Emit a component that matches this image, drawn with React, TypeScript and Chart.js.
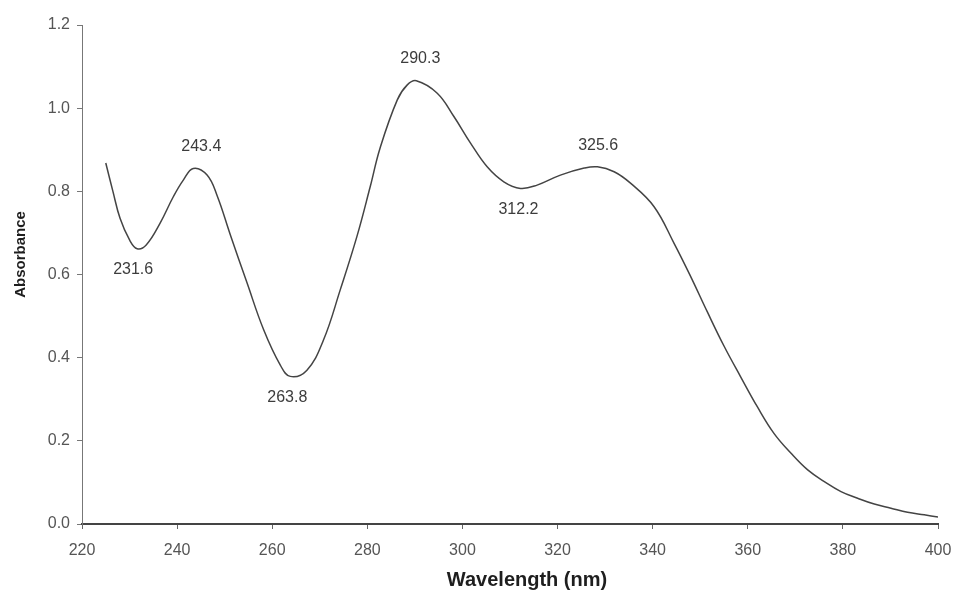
import React, { useEffect, useRef } from "react";
import { Chart, registerables } from "chart.js";

Chart.register(...registerables);

const wavelengths = [
  225, 226.5, 228, 230, 231.6, 233.5, 236.4, 239.2, 241.3, 243.4, 246.3, 248.4, 251.2, 254.7, 258.2,
  261.7, 263.8, 267.3, 270.8, 274.3, 277.8, 280.6, 282.7, 286.3, 288.4, 290.3, 294.7, 298.2, 301.7,
  305.2, 308.7, 312.2, 315.7, 320.6, 325.6, 328.4, 331.9, 335.4, 340.3, 344.5, 348, 351.5, 355,
  358.5, 362, 365.5, 369.1, 372.6, 376.1, 379.6, 383.1, 386.6, 390.1, 393.6, 397.1, 400,
];
const absorbance = [
  0.868, 0.8, 0.735, 0.683, 0.662, 0.671, 0.723, 0.787, 0.827, 0.855, 0.839, 0.79, 0.695, 0.58, 0.467,
  0.382, 0.355, 0.37, 0.443, 0.563, 0.691, 0.811, 0.905, 1.02, 1.056, 1.066, 1.036, 0.98, 0.916,
  0.859, 0.823, 0.807, 0.815, 0.839, 0.856, 0.859, 0.847, 0.819, 0.763, 0.675, 0.595, 0.51, 0.428,
  0.354, 0.282, 0.218, 0.17, 0.13, 0.102, 0.078, 0.062, 0.048, 0.038, 0.028, 0.022, 0.017,
];

const peakWavelengths = [231.6, 243.4, 263.8, 290.3, 312.2, 325.6];
const peakAbsorbance = [0.662, 0.855, 0.355, 1.066, 0.807, 0.858];
const peakIsMaximum = [false, true, false, true, false, true];

const xMin = 220;
const xMax = 400;
const xStep = 20;
const yMin = 0;
const yMax = 1.2;
const yStep = 0.2;

const xTitle = "Wavelength (nm)";
const yTitle = "Absorbance";

const FONT = "Arial, 'Liberation Sans', sans-serif";

// styling: pixel nudges for the peak labels
const labelDx = [-4, 8, -3, 4, -2, 14];

const annotationPlugin = {
  id: "annotations",
  afterDatasetsDraw(chart: any) {
    const { ctx, scales, chartArea } = chart;
    const xs = scales.x;
    const ys = scales.y;
    ctx.save();
    ctx.font = `16px ${FONT}`;
    ctx.fillStyle = "#3c3c3c";
    ctx.textAlign = "center";
    ctx.textBaseline = "middle";
    peakWavelengths.forEach((w, i) => {
      const px = xs.getPixelForValue(w) + labelDx[i];
      const py = ys.getPixelForValue(peakAbsorbance[i]) + (peakIsMaximum[i] ? -22 : 21);
      ctx.fillText(w.toFixed(1), px, py);
    });

    // axis titles
    ctx.fillStyle = "#1e1e1e";
    ctx.font = `bold 20px ${FONT}`;
    const cx = (chartArea.left + chartArea.right) / 2;
    ctx.fillText(xTitle, cx + 17, chartArea.bottom + 56);
    ctx.font = `bold 15px ${FONT}`;
    const cy = (chartArea.top + chartArea.bottom) / 2;
    ctx.translate(chartArea.left - 61, cy - 20);
    ctx.rotate(-Math.PI / 2);
    ctx.fillText(yTitle, 0, 0);
    ctx.restore();
  },
};

export default function App() {
  const ref = useRef<HTMLCanvasElement | null>(null);
  useEffect(() => {
    if (!ref.current) return;
    const chart = new Chart(ref.current, {
      type: "line",
      data: {
        datasets: [
          {
            data: wavelengths.map((w, i) => ({ x: w, y: absorbance[i] })),
            borderColor: "#444",
            borderWidth: 1.5,
            pointRadius: 0,
            tension: 0.4,
            fill: false,
          },
        ],
      },
      options: {
        animation: false,
        responsive: false,
        events: [],
        layout: { padding: { left: 0, right: 17, top: 25, bottom: 0 } },
        plugins: { legend: { display: false }, tooltip: { enabled: false } },
        scales: {
          x: {
            type: "linear",
            min: xMin,
            max: xMax,
            ticks: {
              stepSize: xStep,
              color: "#555",
              font: { size: 16, family: FONT },
              padding: 12,
              maxRotation: 0,
            },
            grid: { drawOnChartArea: false, tickLength: 5, color: "#666", lineWidth: 1 },
            border: { color: "#444", width: 2 },
            afterFit: (s: any) => {
              s.height = 68;
              s.paddingRight = 0;
              s.paddingLeft = 0;
            },
          },
          y: {
            type: "linear",
            min: yMin,
            max: yMax,
            ticks: {
              stepSize: yStep,
              color: "#555",
              font: { size: 16, family: FONT },
              padding: 7,
              callback: (v: any) => Number(v).toFixed(1),
            },
            grid: { drawOnChartArea: false, tickLength: 5, color: "#777", lineWidth: 1 },
            border: { color: "#777", width: 1 },
            afterFit: (s: any) => {
              s.width = 82;
              s.paddingTop = 0;
              s.paddingBottom = 0;
            },
          },
        },
      },
      plugins: [annotationPlugin],
    });
    return () => chart.destroy();
  }, []);
  return (
    <div style={{ position: "fixed", left: 0, top: 0, width: 955, height: 592, background: "#fff" }}>
      <canvas ref={ref} width={955} height={592} />
    </div>
  );
}
